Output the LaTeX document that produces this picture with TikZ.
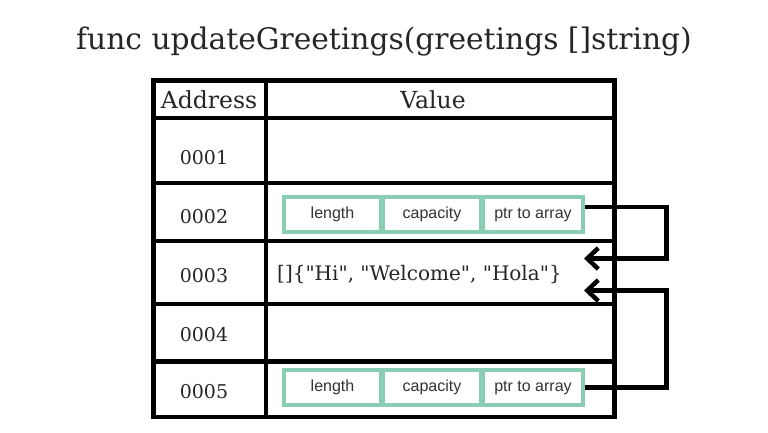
\documentclass[tikz,border=0pt]{standalone}
\usepackage{fontspec}
\setmainfont{DejaVu Serif}
\newfontfamily\codefont{DejaVu Serif}[Ligatures=TeXOff]
\newfontfamily\boxfont{Liberation Sans}
\usetikzlibrary{arrows.meta}
\definecolor{mint}{RGB}{137,205,178}
\tikzset{
  grid/.style={line width=4.5pt, line cap=rect},
  cellbox/.style={draw=mint, line width=4pt, minimum height=35pt, inner sep=0pt,
    outer sep=0pt, font=\boxfont\fontsize{16}{16}\selectfont, text=black!80},
  addr/.style={anchor=base, font=\fontsize{19}{19}\selectfont, text=black!85},
  head/.style={anchor=base, font=\fontsize{23.5}{23.5}\selectfont, text=black!85},
  pointer/.style={line width=4.5pt, -{Straight Barb[length=11pt,width=21pt]}},
}
\begin{document}
\begin{tikzpicture}[x=1pt,y=-1pt]
\useasboundingbox (0,0) rectangle (768,432);
\fill[white] (0,0) rectangle (768,432);

% title
\node[anchor=base, font=\fontsize{29.7}{29.7}\selectfont, text=black!85] (title) at (384,49)
  {func updateGreetings(greetings []string)};

% table frame and rules
\draw[grid] (153.5,80.5) rectangle (614.5,417);
\draw[grid] (266,80.5) -- (266,417);
\foreach \yy in {118,183,241,304,361.5}
  \draw[grid] (153.5,\yy) -- (614.5,\yy);

% header
\node[head] (haddr) at (209,108) {Address};
\node[head] (hval) at (433,108) {Value};

% addresses
\node[addr] (a1) at (204,164) {0001};
\node[addr] (a2) at (204,223) {0002};
\node[addr] (a3) at (204,282) {0003};
\node[addr] (a4) at (204,341) {0004};
\node[addr] (a5) at (204,398) {0005};

% slice header stored at 0002
\node[cellbox, minimum width=97pt] (l2) at (332.5,214.5) {length};
\node[cellbox, minimum width=98pt, anchor=west] (c2) at ([xshift=2pt]l2.east) {capacity};
\node[cellbox, minimum width=100pt, anchor=west] (p2) at ([xshift=2pt]c2.east) {ptr to array};

% backing array at 0003
\node[anchor=base west, font=\codefont\fontsize{20}{20}\selectfont, text=black!85, inner sep=0pt]
  (arr) at (277,280) {[]\{"Hi", "Welcome", "Hola"\}};

% slice header stored at 0005
\node[cellbox, minimum width=97pt] (l5) at (332.5,387.5) {length};
\node[cellbox, minimum width=98pt, anchor=west] (c5) at ([xshift=2pt]l5.east) {capacity};
\node[cellbox, minimum width=100pt, anchor=west] (p5) at ([xshift=2pt]c5.east) {ptr to array};

% pointers into the array
\coordinate (r1) at (666.5,207);
\coordinate (r2) at (666.5,258.5);
\coordinate (in1) at (584,258.5);
\coordinate (s2) at (666.5,387.5);
\coordinate (s1) at (666.5,290.5);
\coordinate (in2) at (584,290.5);
\draw[pointer] ([xshift=2pt]p2.east |- r1) -- (r1) -- (r2) -- (in1);
\draw[pointer] ([xshift=2pt]p5.east) -- (s2) -- (s1) -- (in2);
\end{tikzpicture}
\end{document}
